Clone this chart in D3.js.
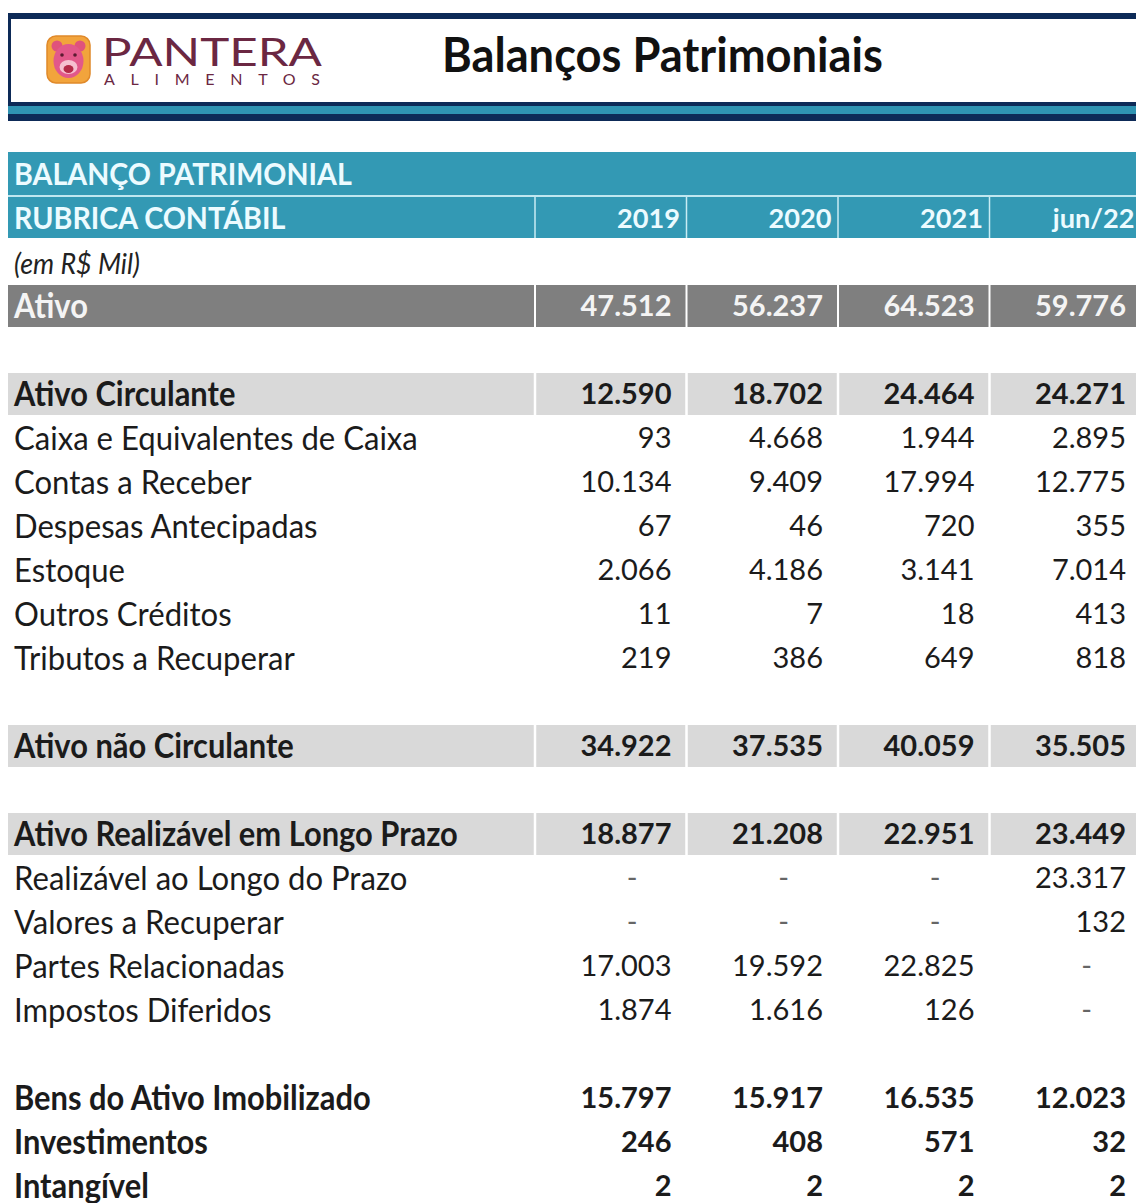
<!DOCTYPE html>
<html><head><meta charset="utf-8">
<script src="https://cdn.jsdelivr.net/npm/d3@7"></script>
<style>html,body{margin:0;padding:0;background:#fff;} svg{display:block}</style>
</head><body>
<svg id="c" width="1136" height="1203"></svg>
<script>
// ---------- data ----------
const title = "Balanços Patrimoniais";
const brand = "PANTERA";
const brandSub = "ALIMENTOS";
const tableTitle = "BALANÇO PATRIMONIAL";
const headerLabel = "RUBRICA CONTÁBIL";
const unitNote = "(em R$ Mil)";
const periods = ["2019", "2020", "2021", "jun/22"];
const accounts = [
  "Ativo", "",
  "Ativo Circulante", "Caixa e Equivalentes de Caixa", "Contas a Receber", "Despesas Antecipadas",
  "Estoque", "Outros Créditos", "Tributos a Recuperar", "",
  "Ativo não Circulante", "",
  "Ativo Realizável em Longo Prazo", "Realizável ao Longo do Prazo", "Valores a Recuperar",
  "Partes Relacionadas", "Impostos Diferidos", "",
  "Bens do Ativo Imobilizado", "Investimentos", "Intangível"
];
const levels = [
  "total", "gap",
  "group", "item", "item", "item", "item", "item", "item", "gap",
  "group", "gap",
  "group", "item", "item", "item", "item", "gap",
  "strong", "strong", "strong"
];
const v2019 = [47512, null, 12590, 93, 10134, 67, 2066, 11, 219, null, 34922, null, 18877, 0, 0, 17003, 1874, null, 15797, 246, 2];
const v2020 = [56237, null, 18702, 4668, 9409, 46, 4186, 7, 386, null, 37535, null, 21208, 0, 0, 19592, 1616, null, 15917, 408, 2];
const v2021 = [64523, null, 24464, 1944, 17994, 720, 3141, 18, 649, null, 40059, null, 22951, 0, 0, 22825, 126, null, 16535, 571, 2];
const vJun22 = [59776, null, 24271, 2895, 12775, 355, 7014, 413, 818, null, 35505, null, 23449, 23317, 132, 0, 0, null, 12023, 32, 2];
const series = [v2019, v2020, v2021, vJun22];

// ---------- setup ----------
const W = 1136, H = 1203;
const svg = d3.select("#c");
const FONT = "Lato, 'Open Sans', sans-serif";
const loc = d3.formatLocale({decimal: ",", thousands: ".", grouping: [3], currency: ["R$", ""]});
const fmt = loc.format(",d");

const meas = svg.append("text").attr("x", -2000).attr("y", -2000).attr("font-family", FONT);
function fit(str, target, weight, style) {
  meas.attr("font-weight", weight).attr("font-style", style || "normal").attr("font-size", 100).text(str);
  const w = meas.node().getComputedTextLength();
  return 100 * target / w;
}
const CAP = 0.7165;
const K = 1.08; // vertical enlargement (Calibri-like narrower glyphs)

const itemSize = fit("Caixa e Equivalentes de Caixa", 404, 400);
const groupSize = fit("Ativo Realizável em Longo Prazo", 444, 700);
const numSize = fit("10.134", 91, 400);
const numBoldSize = fit("12.590", 91, 700);
const headSize = fit(tableTitle, 338, 700);
const yearSize = fit("2019", 63, 700);
const unitSize = fit(unitNote, 126, 400, "italic");
const titleSize = fit(title, 441, 700);
meas.remove();

// condense: render bigger by k, then compress width back to the fitted width
function condense(sel, k) {
  sel.each(function() {
    const n = this;
    const fs = parseFloat(n.getAttribute("font-size"));
    n.setAttribute("font-size", fs * k);
    const w = n.getComputedTextLength();
    n.setAttribute("textLength", w / k);
    n.setAttribute("lengthAdjust", "spacingAndGlyphs");
  });
}

// ---------- header banner ----------
const navy = "#0d2a57", teal = "#3399b4";
svg.append("rect").attr("x", 0).attr("y", 0).attr("width", W).attr("height", H).attr("fill", "#ffffff");
svg.append("rect").attr("x", 8).attr("y", 13).attr("width", W).attr("height", 6).attr("fill", navy);
svg.append("rect").attr("x", 8).attr("y", 13).attr("width", 3).attr("height", 92).attr("fill", navy);
svg.append("rect").attr("x", 8).attr("y", 102).attr("width", W).attr("height", 4).attr("fill", navy);
svg.append("rect").attr("x", 8).attr("y", 106).attr("width", W).attr("height", 8).attr("fill", "#2f93b2");
svg.append("rect").attr("x", 8).attr("y", 114).attr("width", W).attr("height", 7).attr("fill", navy);

// logo
const logo = svg.append("g");
logo.append("rect").attr("x", 47).attr("y", 36).attr("width", 43).attr("height", 47).attr("rx", 9)
  .attr("fill", "#f2a43c").attr("stroke", "#e0892a").attr("stroke-width", 1.5);
logo.append("circle").attr("cx", 57).attr("cy", 46).attr("r", 5.5).attr("fill", "#e0527c");
logo.append("circle").attr("cx", 80).attr("cy", 46).attr("r", 5.5).attr("fill", "#e0527c");
logo.append("ellipse").attr("cx", 68.5).attr("cy", 61).attr("rx", 15).attr("ry", 17).attr("fill", "#e2588a");
logo.append("ellipse").attr("cx", 68.5).attr("cy", 67).attr("rx", 9).attr("ry", 7).attr("fill", "#f6c0d0");
logo.append("ellipse").attr("cx", 68.5).attr("cy", 69).attr("rx", 5).attr("ry", 4).attr("fill", "#b42a48");
logo.append("circle").attr("cx", 62).attr("cy", 55).attr("r", 1.8).attr("fill", "#5a1a30");
logo.append("circle").attr("cx", 75).attr("cy", 55).attr("r", 1.8).attr("fill", "#5a1a30");

svg.append("text").attr("x", 102).attr("y", 66).attr("font-family", "Lato, sans-serif")
  .attr("font-weight", 400).attr("font-size", 39).attr("fill", "#6b2742")
  .attr("textLength", 220).attr("lengthAdjust", "spacingAndGlyphs").text(brand);
svg.append("text").attr("x", 104).attr("y", 85).attr("font-family", "Lato, sans-serif")
  .attr("font-weight", 400).attr("font-size", 16).attr("fill", "#6b2742")
  .attr("textLength", 216).attr("lengthAdjust", "spacing").text(brandSub);

svg.append("text").attr("class", "ttl").attr("x", 442).attr("y", 72).attr("font-family", FONT).attr("font-weight", 700)
  .attr("font-size", titleSize).attr("fill", "#111").text(title);
condense(svg.selectAll(".ttl"), 1.06);

// ---------- table scales ----------
const nRows = 3 + accounts.length;
const y = d3.scaleBand().domain(d3.range(nRows)).range([152, 152 + nRows * 44.0]);
const x = d3.scaleBand().domain(periods).range([535, 1141]);
const bw = y.bandwidth();
const labelX = 14;
const colBounds = periods.map(p => x(p));

// header rows
svg.append("rect").attr("x", 8).attr("y", y(0)).attr("width", W).attr("height", y(2) - y(0) - 2).attr("fill", teal);
svg.append("line").attr("x1", 8).attr("x2", W).attr("y1", y(1)).attr("y2", y(1)).attr("stroke", "#bfe7f0").attr("stroke-width", 2);
svg.selectAll(".hsep").data(colBounds).join("line").attr("class", "hsep")
  .attr("x1", d => d).attr("x2", d => d).attr("y1", y(1) + 1).attr("y2", y(2) - 2)
  .attr("stroke", "#c8ecf4").attr("stroke-width", 1.5);

const headFill = "#ecfbff";
const hk = K;
svg.append("text").attr("class", "hd").attr("x", labelX).attr("y", y(0) + bw / 2 + headSize * hk * CAP / 2)
  .attr("font-family", FONT).attr("font-weight", 700).attr("font-size", headSize).attr("fill", headFill).text(tableTitle);
svg.append("text").attr("class", "hd").attr("x", labelX).attr("y", y(1) + bw / 2 + headSize * hk * CAP / 2)
  .attr("font-family", FONT).attr("font-weight", 700).attr("font-size", headSize).attr("fill", headFill).text(headerLabel);
condense(svg.selectAll(".hd"), hk);
svg.selectAll(".yr").data(periods).join("text").attr("class", "yr")
  .attr("x", d => x(d) + x.bandwidth() - 6.5).attr("y", y(1) + bw / 2 + yearSize * CAP / 2)
  .attr("text-anchor", "end").attr("font-family", FONT).attr("font-weight", 700)
  .attr("font-size", yearSize).attr("fill", headFill).text(d => d);

svg.append("text").attr("class", "un").attr("x", labelX).attr("y", y(2) + bw / 2 + unitSize * CAP / 2 + 2)
  .attr("font-family", FONT).attr("font-style", "italic").attr("font-size", unitSize).attr("fill", "#222").text(unitNote);
condense(svg.selectAll(".un"), K);

// ---------- body rows ----------
const rows = accounts.map((a, i) => ({label: a, level: levels[i], idx: 3 + i, vals: series.map(s => s[i])}));

// bands
const bandColor = {total: "#7f7f7f", group: "#d9d9d9"};
const banded = rows.filter(r => bandColor[r.level]);
svg.selectAll(".band").data(banded).join("rect").attr("class", "band")
  .attr("x", 8).attr("y", r => y(r.idx) + 1).attr("width", W).attr("height", bw - 2)
  .attr("fill", r => bandColor[r.level]);
banded.forEach(r => {
  svg.selectAll(null).data(colBounds).join("line")
    .attr("x1", d => d).attr("x2", d => d).attr("y1", y(r.idx)).attr("y2", y(r.idx) + bw)
    .attr("stroke", "#ffffff").attr("stroke-width", r.level === "total" ? 2 : 2.5);
});

const textRows = rows.filter(r => r.level !== "gap");
const isBold = l => l !== "item";
const fillOf = l => l === "total" ? "#f4f4f4" : "#1b1b1b";

svg.selectAll(".lab").data(textRows).join("text").attr("class", "lab")
  .attr("x", labelX)
  .attr("y", r => { const s = isBold(r.level) ? groupSize : itemSize; return y(r.idx) + bw / 2 + s * K * CAP / 2; })
  .attr("font-family", FONT).attr("font-weight", r => isBold(r.level) ? 700 : 400)
  .attr("font-size", r => isBold(r.level) ? groupSize : itemSize)
  .attr("fill", r => fillOf(r.level)).text(r => r.label);
condense(svg.selectAll(".lab"), K);

const cells = [];
textRows.forEach(r => r.vals.forEach((v, j) => cells.push({r, v, p: periods[j]})));
svg.selectAll(".val").data(cells).join("text").attr("class", "val")
  .attr("x", d => x(d.p) + x.bandwidth() - (d.v === 0 ? 49 : 15))
  .attr("y", d => { const s = isBold(d.r.level) ? numBoldSize : numSize; return y(d.r.idx) + bw / 2 + s * CAP / 2; })
  .attr("text-anchor", "end").attr("font-family", FONT)
  .attr("font-weight", d => isBold(d.r.level) ? 700 : 400)
  .attr("font-size", d => isBold(d.r.level) ? numBoldSize : numSize)
  .attr("fill", d => d.v === 0 ? "#666" : fillOf(d.r.level))
  .text(d => d.v === 0 ? "-" : fmt(d.v));
</script>
</body></html>
